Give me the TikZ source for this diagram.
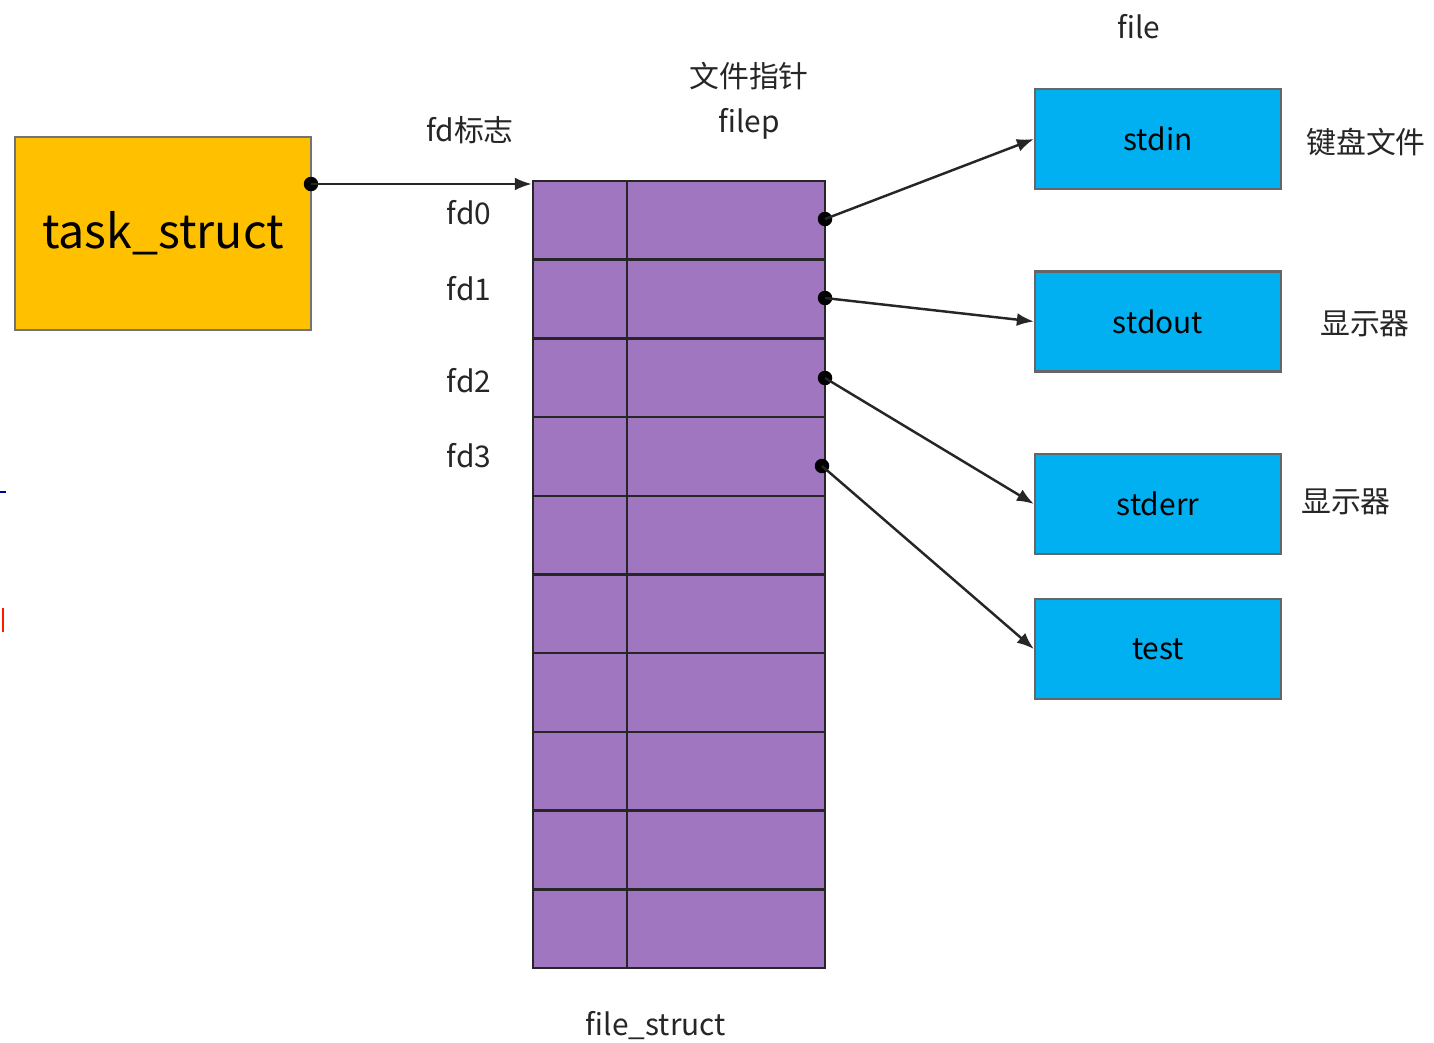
\documentclass[tikz,border=0pt]{standalone}
\usepackage{fontspec}
\setmainfont{Noto Sans CJK SC}
\usetikzlibrary{arrows.meta}

\definecolor{orangebox}{HTML}{FFC000}
\definecolor{violetcell}{HTML}{A076C0}
\definecolor{bleubox}{HTML}{00B0F0}

\begin{document}
\begin{tikzpicture}[x=0.02cm, y=-0.02cm,
  lbl/.style={font=\fontsize{17pt}{20pt}\selectfont, text=black!85},
  cellule/.style={draw=black!85, fill=violetcell, line width=1.4pt, inner sep=0pt, minimum height=1.574cm},
  fichier/.style={draw=black!60, fill=bleubox, line width=1.3pt, inner sep=0pt,
    minimum width=4.92cm, minimum height=2cm, font=\fontsize{17pt}{20pt}\selectfont},
  point/.style={circle, fill=black, inner sep=0pt, minimum size=0.29cm},
  fleche/.style={-{Latex[length=0.34cm,width=0.26cm]}, line width=1.4pt, black!85}]

\useasboundingbox (0,0) rectangle (1434,1042);

% Noeuds
\node[draw=black!55, fill=orangebox, line width=1.3pt, inner sep=0pt,
  minimum width=5.92cm, minimum height=3.86cm,
  font=\fontsize{26.5pt}{30pt}\selectfont] (task) at (163,233.5) {task\_struct};

\foreach \i in {0,...,9} {
  \node[cellule, minimum width=1.88cm] (fd\i) at (580,{181+78.7*(\i+0.5)}) {};
  \node[cellule, minimum width=3.96cm] (ptr\i) at (726,{181+78.7*(\i+0.5)}) {};
}

\node[fichier] (stdin) at (1158,139) {stdin};
\node[fichier] (stdout) at (1158,321.5) {stdout};
\node[fichier] (stderr) at (1158,504) {stderr};
\node[fichier] (test) at (1158,649) {test};

% Textes
\node[lbl] (fdtag) at (470,130) {fd标志};
\node[lbl] (ptrtag) at (749,76) {文件指针};
\node[lbl] (filep) at (749,124) {filep};
\node[lbl] (file) at (1139,27) {file};
\node[lbl] (l0) at (469,213) {fd0};
\node[lbl] (l1) at (469,289) {fd1};
\node[lbl] (l2) at (469,381) {fd2};
\node[lbl] (l3) at (469,456) {fd3};
\node[lbl] (fs) at (656,1025) {file\_struct};
\node[lbl] (clavier) at (1366,142) {键盘文件};
\node[lbl] (ecran1) at (1365,324) {显示器};
\node[lbl] (ecran2) at (1346,502) {显示器};

% Points
\node[point] (t0) at (311,184) {};
\node[point] (p0) at (825,219) {};
\node[point] (p1) at (825,298) {};
\node[point] (p2) at (825,378) {};
\node[point] (p3) at (822,466) {};

% Flèches
\draw[fleche] (t0.center) -- (t0.center -| fd0.west);
\draw[fleche] (p0.center) -- (stdin.west);
\draw[fleche] (p1.center) -- (stdout.west);
\draw[fleche] (p2.center) -- (stderr.west);
\draw[fleche] (p3.center) -- (test.west);

% Traits au bord
\draw[blue!60!black, line width=1.6pt] (0,492) -- (6,492);
\draw[red!80!orange, line width=1.6pt] (3,608) -- (3,632);

\end{tikzpicture}
\end{document}
